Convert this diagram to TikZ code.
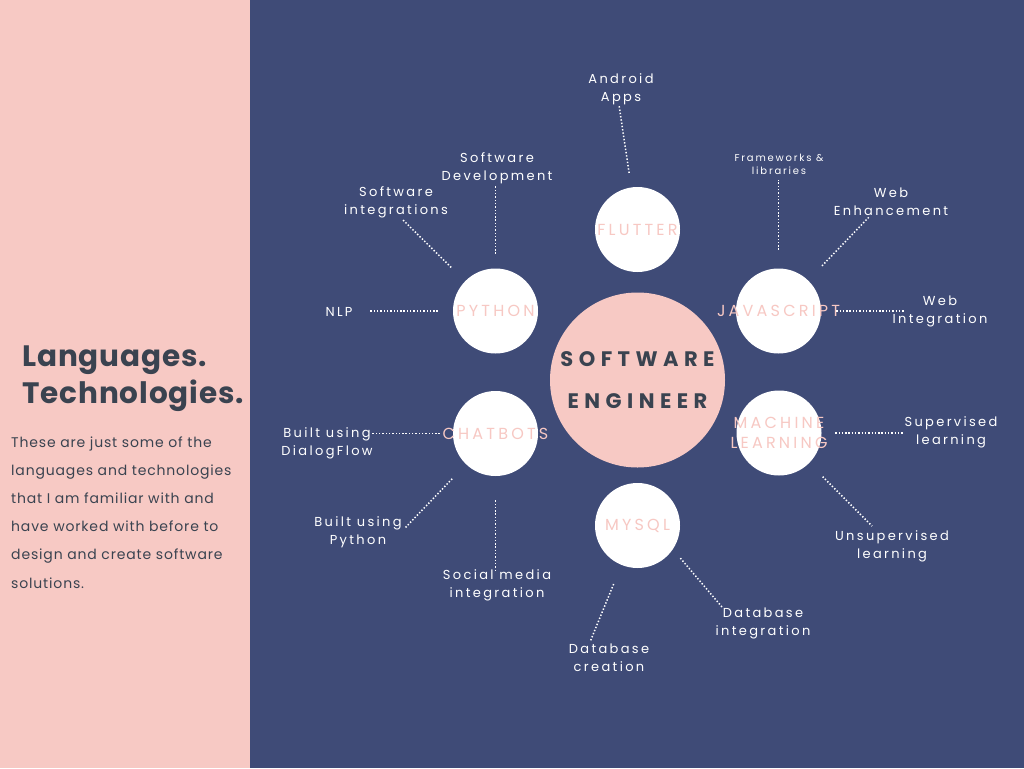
\documentclass[tikz,border=0pt]{standalone}
\usepackage{fontspec}
\setmainfont{Poppins}
\newfontfamily\notefont[LetterSpace=18]{Poppins}
\newfontfamily\capsfont[LetterSpace=20]{Poppins}
\newfontfamily\hubfont[LetterSpace=26]{Poppins}
\newfontfamily\bodyfont[LetterSpace=6]{Poppins}
\newfontfamily\titlefont[LetterSpace=3]{Poppins}
\definecolor{panelpink}{HTML}{F7C9C4}
\definecolor{navy}{HTML}{3F4B77}
\definecolor{ink}{HTML}{3A4350}
\definecolor{techpink}{HTML}{F7C8C3}
\begin{document}
\begin{tikzpicture}[x=1pt, y=-1pt,
    hub/.style={circle, fill=panelpink, minimum size=175pt, inner sep=0pt, text=ink, align=center,
      font=\hubfont\bfseries\fontsize{21}{42}\selectfont},
    tech/.style={circle, fill=white, minimum size=85pt, inner sep=0pt,
      label={[text=techpink, align=center, inner sep=0pt, font=\capsfont\fontsize{16}{20}\selectfont]center:#1}},
    note/.style={text=white, align=center, inner sep=0pt, font=\notefont\fontsize{13}{18}\selectfont},
    link/.style={white, line width=1.5pt, dash pattern=on 1.4pt off 1.9pt}]
    \useasboundingbox (0,0) rectangle (1024,768);
    \fill[panelpink] (0,0) rectangle (250,768);
    \fill[navy] (250,0) rectangle (1024,768);

    % left panel
    \node[anchor=base west, inner sep=0pt, align=left, text=ink, font=\titlefont\bfseries\fontsize{29.5}{37}\selectfont]
      (title) at (22,403) {Languages.\\Technologies.};
    \node[anchor=base west, inner sep=0pt, align=left, text=ink, font=\bodyfont\fontsize{14}{28.2}\selectfont]
      (intro) at (11,588) {These are just some of the\\languages and technologies\\that I am familiar with and\\have worked with before to\\design and create software\\solutions.};

    % circles
    \node[hub] (se) at (637.5,380) {SOFTWARE\\ENGINEER};
    \node[tech=FLUTTER] (fl) at (637.5,229.5) {};
    \node[tech=PYTHON] (py) at (495.5,311) {};
    \node[tech=JAVASCRIPT] (js) at (778.5,311) {};
    \node[tech=CHATBOTS] (cb) at (495.5,433.5) {};
    \node[tech={MACHINE\\LEARNING}] (ml) at (779,433) {};
    \node[tech=MYSQL] (my) at (637.5,525.5) {};

    % notes
    \node[note] (android) at (621,89) {Android\\Apps};
    \node[note] (swdev) at (497,168) {Software\\Development};
    \node[note] (swint) at (396,202) {Software\\integrations};
    \node[note] (nlp) at (339,312) {NLP};
    \node[note, font=\notefont\fontsize{10}{13}\selectfont] (frame) at (779,164) {Frameworks \&\\libraries};
    \node[note] (webenh) at (891,202) {Web\\Enhancement};
    \node[note] (webint) at (940,311) {Web\\Integration};
    \node[note] (dialog) at (327,443) {Built using\\DialogFlow};
    \node[note] (bpy) at (358,532) {Built using\\Python};
    \node[note] (social) at (497,585) {Social media\\integration};
    \node[note] (dbcr) at (609,658) {Database\\creation};
    \node[note] (dbint) at (763,623) {Database\\integration};
    \node[note] (sup) at (951,432) {Supervised\\learning};
    \node[note] (unsup) at (892,546) {Unsupervised\\learning};

    % free ends of the dotted links
    \coordinate (android-e) at (619,105);
    \coordinate (swdev-e) at (495.5,185);
    \coordinate (swint-e) at (402,219);
    \coordinate (nlp-e) at (369,311);
    \coordinate (frame-e) at (778.5,180);
    \coordinate (webenh-e) at (870,216);
    \coordinate (webint-e) at (904,311);
    \coordinate (dialog-e) at (372,433.5);
    \coordinate (bpy-e) at (405,528);
    \coordinate (social-e) at (495.5,570);
    \coordinate (dbcr-e) at (590,642);
    \coordinate (dbint-e) at (722,607);
    \coordinate (sup-e) at (904,433);
    \coordinate (unsup-e) at (872,526);

    \draw[link, shorten <=14.5pt] (fl) -- (android-e);
    \draw[link, shorten <=14.5pt] (py) -- (swdev-e);
    \draw[link, shorten <=19.5pt] (py) -- (swint-e);
    \draw[link, shorten <=15pt] (py) -- (nlp-e);
    \draw[link, shorten <=18.5pt] (js) -- (frame-e);
    \draw[link, shorten <=20pt] (js) -- (webenh-e);
    \draw[link, shorten <=15pt] (js) -- (webint-e);
    \draw[link, shorten <=13pt] (cb) -- (dialog-e);
    \draw[link, shorten <=20pt] (cb) -- (bpy-e);
    \draw[link, shorten <=24pt] (cb) -- (social-e);
    \draw[link, shorten <=20.5pt] (my) -- (dbcr-e);
    \draw[link, shorten <=11.5pt] (my.-34) -- (dbint-e);
    \draw[link, shorten <=13.5pt] (ml) -- (sup-e);
    \draw[link, shorten <=19pt] (ml) -- (unsup-e);
\end{tikzpicture}
\end{document}
